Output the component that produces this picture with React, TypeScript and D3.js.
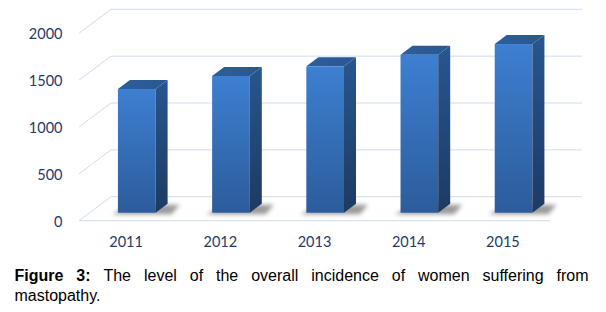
import React, { useMemo } from "react";
import * as d3 from "d3";

const years = ["2011", "2012", "2013", "2014", "2015"];
const values = [1320, 1460, 1562, 1686, 1800];
const yTicks = [0, 500, 1000, 1500, 2000];
const captionBold = ["Figure", "3:"];
const captionLine1 = ["The", "level", "of", "the", "overall", "incidence", "of", "women", "suffering", "from"];
const captionLine2 = "mastopathy.";

const W = 606;
const H = 312;
const DX = 32;
const DY = -24;
const T0 = 1 / 3;
const T1 = T0 + 0.375;
const TICK_COLOR = "#1f3a68";
const TICK_FONT = "Lato, 'Open Sans', sans-serif";
const TICK_SIZE = 14.5;
const GRID = "#cfdcef";
const CAP_FONT = "'Liberation Sans', Arial, sans-serif";
const CAP_SIZE = 16;

function measure(text: string, bold: boolean): number {
  const c = document.createElement("canvas").getContext("2d");
  if (!c) return text.length * 8;
  c.font = `${bold ? "bold " : ""}${CAP_SIZE}px 'Liberation Sans'`;
  return c.measureText(text).width;
}

export default function App() {
  const x = d3.scaleBand<string>().domain(years).range([79, 550]).paddingInner(0.6).paddingOuter(0.3);
  const y = d3.scaleLinear().domain([0, 2000]).range([220.7, 33.3]);
  const bw = x.bandwidth();

  const captionWords = useMemo(() => {
    const words = [
      ...captionBold.map((w) => ({ w, bold: true })),
      ...captionLine1.map((w) => ({ w, bold: false })),
    ];
    const widths = words.map((d) => measure(d.w, d.bold));
    const left = 14.5;
    const right = 588.5;
    const total = widths.reduce((a, b) => a + b, 0);
    const gap = (right - left - total) / (words.length - 1);
    let cx = left;
    return words.map((d, i) => {
      const out = { ...d, x: cx };
      cx += widths[i] + gap;
      return out;
    });
  }, []);

  const pt = (px: number, py: number) => `${px},${py}`;

  return (
    <div style={{ position: "absolute", left: 0, top: 0, width: W, height: H, background: "#fff" }}>
      <svg width={W} height={H} style={{ display: "block" }}>
        <defs>
          <linearGradient id="gFront" x1="0" y1="0" x2="0" y2="1">
            <stop offset="0" stopColor="#3d7fd1" />
            <stop offset="1" stopColor="#2c5c9b" />
          </linearGradient>
          <linearGradient id="gSide" x1="0" y1="0" x2="0" y2="1">
            <stop offset="0" stopColor="#28568f" />
            <stop offset="1" stopColor="#1d3a63" />
          </linearGradient>
          <linearGradient id="gTop" x1="0" y1="0" x2="1" y2="0">
            <stop offset="0" stopColor="#2d5e9c" />
            <stop offset="1" stopColor="#295792" />
          </linearGradient>
          <filter id="blur" x="-30%" y="-100%" width="160%" height="300%">
            <feGaussianBlur stdDeviation="2.2" />
          </filter>
        </defs>

        {/* gridlines */}
        {yTicks.map((t) => {
          const fy = y(t);
          return (
            <polyline
              key={t}
              points={`${pt(79, fy)} ${pt(79 + DX, fy + DY)} ${pt(582, fy + DY)}`}
              fill="none"
              stroke={GRID}
              strokeWidth={1}
            />
          );
        })}
        <line x1={79} x2={550} y1={y(0)} y2={y(0)} stroke={GRID} strokeWidth={1} />

        {/* y tick labels */}
        {yTicks.map((t) => (
          <text
            key={t}
            x={62.5}
            y={y(t) + 6}
            textAnchor="end"
            fontFamily={TICK_FONT}
            fontSize={TICK_SIZE}
            fill={TICK_COLOR}
          >
            {t}
          </text>
        ))}

        {/* bars */}
        {years.map((yr, i) => {
          const x0 = (x(yr) as number) + T0 * DX;
          const x1 = x0 + bw;
          const bx0 = (x(yr) as number) + T1 * DX;
          const bx1 = bx0 + bw;
          const yb = y(0) + T0 * DY;
          const yt = y(values[i]) + T0 * DY;
          const ybb = y(0) + T1 * DY;
          const ytb = y(values[i]) + T1 * DY;
          return (
            <g key={yr}>
              <polygon
                points={`${pt(x0 - 6, yb + 1.5)} ${pt(x1 + 16, yb + 1.5)} ${pt(bx1 + 12, ybb + 1)} ${pt(bx0, ybb + 1)}`}
                fill="#4a4a4a"
                opacity={0.55}
                filter="url(#blur)"
              />
              <rect x={x0} y={yt} width={bw} height={yb - yt} fill="url(#gFront)" />
              <polygon
                points={`${pt(x1, yt)} ${pt(bx1, ytb)} ${pt(bx1, ybb)} ${pt(x1, yb)}`}
                fill="url(#gSide)"
              />
              <polygon
                points={`${pt(x0, yt)} ${pt(bx0, ytb)} ${pt(bx1, ytb)} ${pt(x1, yt)}`}
                fill="url(#gTop)"
              />
            </g>
          );
        })}

        {/* category labels */}
        {years.map((yr) => (
          <text
            key={yr}
            x={(x(yr) as number) + bw / 2}
            y={247}
            textAnchor="middle"
            fontFamily={TICK_FONT}
            fontSize={TICK_SIZE}
            fill={TICK_COLOR}
          >
            {yr}
          </text>
        ))}

        {/* caption */}
        <g fontFamily={CAP_FONT} fontSize={CAP_SIZE} fill="#000">
          {captionWords.map((d, i) => (
            <text key={i} x={d.x} y={280.7} fontWeight={d.bold ? "bold" : "normal"}>
              {d.w}
            </text>
          ))}
          <text x={14.5} y={300.7}>
            {captionLine2}
          </text>
        </g>
      </svg>
    </div>
  );
}
